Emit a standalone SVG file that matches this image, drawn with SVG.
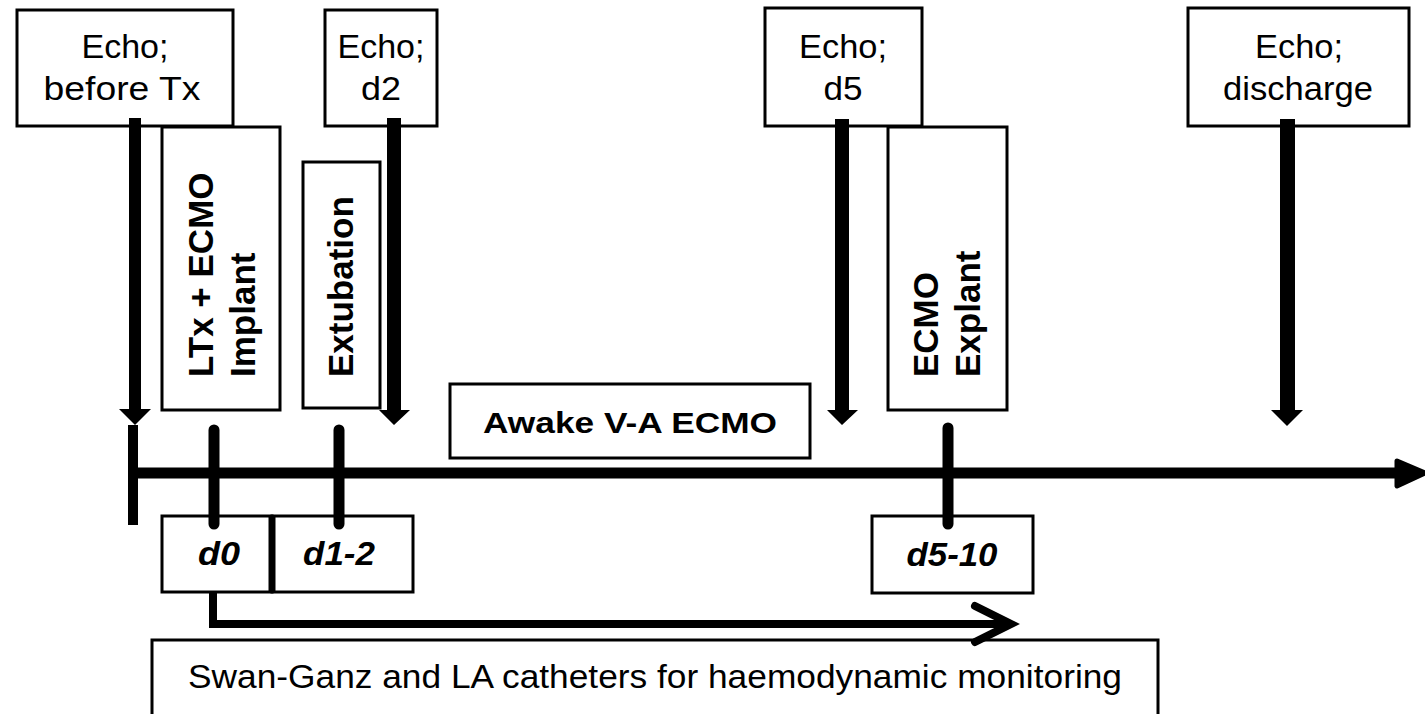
<svg xmlns="http://www.w3.org/2000/svg" width="1425" height="714" viewBox="0 0 1425 714">
<style>
.box{fill:#fff;stroke:#000;stroke-width:3}
.t{font-family:"Liberation Sans",Arial,Helvetica,sans-serif;fill:#000;text-anchor:middle;font-size:33px}
.b{font-weight:bold;font-size:30px}
.r{font-family:"Liberation Sans",Arial,Helvetica,sans-serif;fill:#000;font-size:35px;font-weight:bold;text-anchor:start}
.bi{font-weight:bold;font-style:italic;font-size:33px}
.tick{stroke:#000;stroke-width:11;stroke-linecap:round;fill:none}
.fill{fill:#000}
</style>
<rect width="1425" height="714" fill="#fff"/>

<g id="n-ltx">
<rect class="box" x="162" y="127" width="118" height="283"/>
<text class="r" transform="translate(213,377) rotate(-90)">LTx + ECMO</text>
<text class="r" transform="translate(255,377) rotate(-90)">Implant</text>
</g>
<g id="n-extubation">
<rect class="box" x="303" y="162" width="77" height="246"/>
<text class="r" transform="translate(353,377) rotate(-90)">Extubation</text>
</g>
<g id="n-explant">
<rect class="box" x="888" y="127" width="119" height="283"/>
<text class="r" transform="translate(938,377) rotate(-90)">ECMO</text>
<text class="r" transform="translate(980,377) rotate(-90)">Explant</text>
</g>

<g id="n-echo1">
<rect class="box" x="17" y="10" width="216" height="116"/>
<text class="t" x="125" y="58" textLength="87" lengthAdjust="spacingAndGlyphs">Echo;</text>
<text class="t" x="122" y="100" textLength="157" lengthAdjust="spacingAndGlyphs">before Tx</text>
</g>
<g id="n-echo2">
<rect class="box" x="325" y="10" width="112" height="116"/>
<text class="t" x="381" y="58" textLength="87" lengthAdjust="spacingAndGlyphs">Echo;</text>
<text class="t" x="381" y="100" textLength="40" lengthAdjust="spacingAndGlyphs">d2</text>
</g>
<g id="n-echo3">
<rect class="box" x="765" y="8" width="157" height="118"/>
<text class="t" x="843" y="58" textLength="88" lengthAdjust="spacingAndGlyphs">Echo;</text>
<text class="t" x="843" y="100" textLength="39" lengthAdjust="spacingAndGlyphs">d5</text>
</g>
<g id="n-echo4">
<rect class="box" x="1188" y="8" width="221" height="118"/>
<text class="t" x="1299" y="58" textLength="88" lengthAdjust="spacingAndGlyphs">Echo;</text>
<text class="t" x="1298" y="100" textLength="150" lengthAdjust="spacingAndGlyphs">discharge</text>
</g>

<g id="n-awake">
<rect class="box" x="450" y="384" width="360" height="74"/>
<text class="t b" x="630" y="433" textLength="294" lengthAdjust="spacingAndGlyphs">Awake V-A ECMO</text>
</g>

<g id="n-d0">
<rect class="box" x="162" y="516" width="110" height="76"/>
<text class="t bi" x="219" y="565" textLength="42" lengthAdjust="spacingAndGlyphs">d0</text>
</g>
<g id="n-d12">
<rect class="box" x="272" y="516" width="141" height="76"/>
<text class="t bi" x="339" y="565" textLength="72" lengthAdjust="spacingAndGlyphs">d1-2</text>
</g>
<g id="n-d510">
<rect class="box" x="872" y="516" width="161" height="77"/>
<text class="t bi" x="952" y="566" textLength="91" lengthAdjust="spacingAndGlyphs">d5-10</text>
</g>
<g id="n-swan">
<rect class="box" x="152" y="640" width="1006" height="90"/>
<text class="t" x="655" y="688" font-size="34" textLength="934" lengthAdjust="spacingAndGlyphs">Swan-Ganz and LA catheters for haemodynamic monitoring</text>
</g>

<g id="connectors">
<line x1="272" y1="516" x2="272" y2="592" stroke="#000" stroke-width="7"/>
<path class="fill" d="M129,118 H141 V409 H151 L135,425 L119,409 H129 Z"/>
<path class="fill" d="M387,118 H401 V410 H410 L394,425 L379,410 H387 Z"/>
<path class="fill" d="M835,119 H849 V410 H858 L842,425 L827,410 H835 Z"/>
<path class="fill" d="M1280,119 H1295 V410 H1303 L1287,426 L1271,410 H1280 Z"/>
<line x1="133" y1="425" x2="133" y2="525" stroke="#000" stroke-width="10"/>
<line x1="133" y1="473" x2="1400" y2="473" stroke="#000" stroke-width="11"/>
<path d="M1397,461 L1425,473 L1397,486 Z" fill="#000" stroke="#000" stroke-width="5" stroke-linejoin="round"/>
<line class="tick" x1="214" y1="430" x2="214" y2="524"/>
<line class="tick" x1="339" y1="430" x2="339" y2="524"/>
<line class="tick" x1="948" y1="428" x2="948" y2="524"/>
<path d="M213,592 V624 H1008" fill="none" stroke="#000" stroke-width="8"/>
<path d="M975,606 L1011,624 L975,642" fill="none" stroke="#000" stroke-width="8" stroke-linecap="round" stroke-linejoin="miter"/>
</g>
</svg>
